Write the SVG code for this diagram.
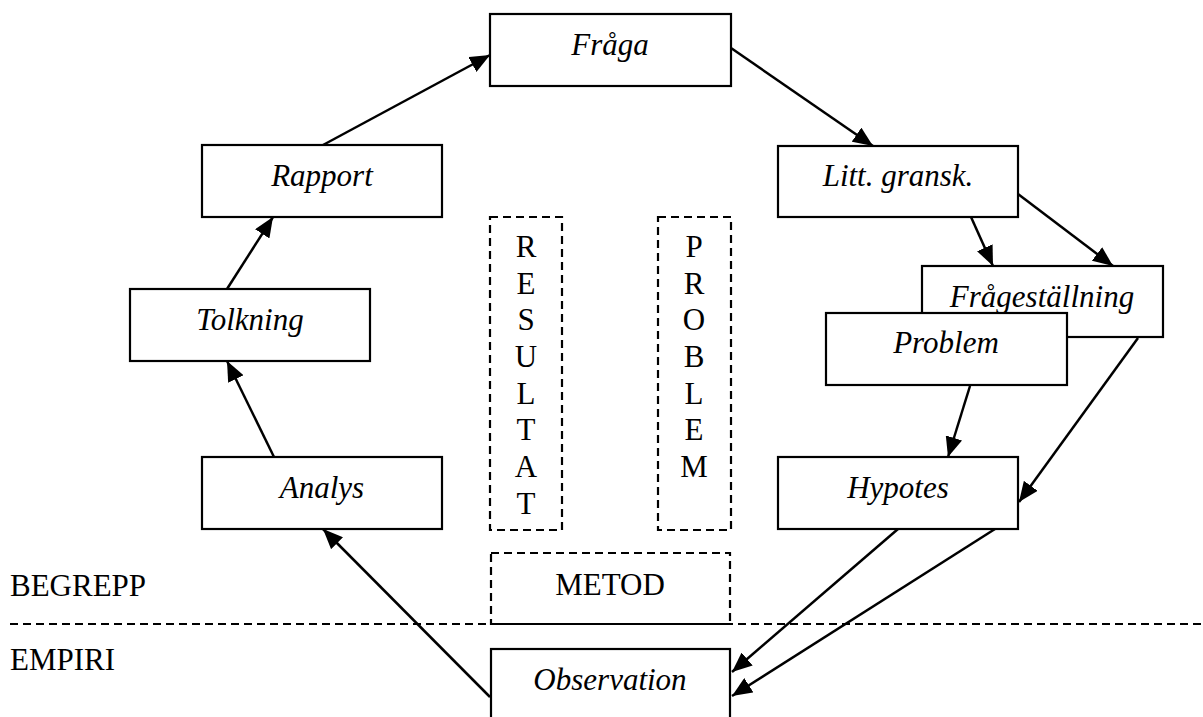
<svg xmlns="http://www.w3.org/2000/svg" width="1203" height="717" viewBox="0 0 1203 717">
<defs>
<marker id="ah" markerUnits="userSpaceOnUse" markerWidth="21" markerHeight="17" refX="20" refY="8.5" orient="auto">
<path d="M0,0 L20,8.5 L0,17 Z" fill="#000"/>
</marker>
<style>
.box{fill:#fff;stroke:#000;stroke-width:2.2}
.dbox{fill:none;stroke:#000;stroke-width:2.2;stroke-dasharray:8 5}
text{font-family:'Liberation Serif','DejaVu Serif',serif;font-size:31px;fill:#000}
.lbl{font-style:italic;text-anchor:middle}
.upc{text-anchor:middle}
.con{stroke:#000;stroke-width:2.5;fill:none;marker-end:url(#ah)}
</style>
</defs>
<rect width="1203" height="717" fill="#fff"/>
<g id="divider">
<line x1="10" y1="624" x2="1203" y2="624" stroke="#000" stroke-width="2.2" stroke-dasharray="8 5"/>
<text x="10" y="596">BEGREPP</text>
<text x="10" y="670">EMPIRI</text>
</g>
<g id="resultat">
<rect class="dbox" x="490" y="217" width="72" height="313"/>
<text class="upc"><tspan x="526" y="257">R</tspan><tspan x="526" y="294">E</tspan><tspan x="526" y="330">S</tspan><tspan x="526" y="367">U</tspan><tspan x="526" y="404">L</tspan><tspan x="526" y="440">T</tspan><tspan x="526" y="477">A</tspan><tspan x="526" y="514">T</tspan></text>
</g>
<g id="problemcol">
<rect class="dbox" x="658" y="217" width="73" height="313"/>
<text class="upc"><tspan x="694" y="257">P</tspan><tspan x="694" y="294">R</tspan><tspan x="694" y="330">O</tspan><tspan x="694" y="367">B</tspan><tspan x="694" y="404">L</tspan><tspan x="694" y="440">E</tspan><tspan x="694" y="477">M</tspan></text>
</g>
<g id="metod">
<rect class="dbox" x="491" y="553" width="239" height="71"/>
<text class="upc" x="610" y="595">METOD</text>
</g>
<g id="connectors">
<line class="con" x1="323" y1="145" x2="490" y2="55"/>
<line class="con" x1="731" y1="48" x2="873" y2="146"/>
<line class="con" x1="971" y1="217" x2="993" y2="266"/>
<line class="con" x1="1018" y1="194" x2="1113" y2="266"/>
<line class="con" x1="1138" y1="338" x2="1019" y2="502"/>
<line class="con" x1="970" y1="386" x2="948" y2="457"/>
<line class="con" x1="898" y1="529" x2="732" y2="672"/>
<line class="con" x1="995" y1="529" x2="732" y2="696"/>
<line class="con" x1="490" y1="697" x2="323" y2="529"/>
<line class="con" x1="274" y1="457" x2="227" y2="361"/>
<line class="con" x1="227" y1="289" x2="273" y2="217"/>
</g>
<g id="fraga">
<rect class="box" x="490" y="14" width="241" height="72"/>
<text class="lbl" x="610" y="55">Fråga</text>
</g>
<g id="litt">
<rect class="box" x="778" y="146" width="240" height="71"/>
<text class="lbl" x="898" y="186">Litt. gransk.</text>
</g>
<g id="fragestallning">
<rect class="box" x="922" y="266" width="241" height="71"/>
<text class="lbl" x="1042" y="307">Frågeställning</text>
</g>
<g id="problem">
<rect class="box" x="826" y="313" width="241" height="72"/>
<text class="lbl" x="946" y="353">Problem</text>
</g>
<g id="hypotes">
<rect class="box" x="778" y="457" width="240" height="72"/>
<text class="lbl" x="898" y="498">Hypotes</text>
</g>
<g id="observation">
<rect class="box" x="491" y="649" width="239" height="90"/>
<text class="lbl" x="610" y="690">Observation</text>
</g>
<g id="analys">
<rect class="box" x="202" y="457" width="240" height="72"/>
<text class="lbl" x="322" y="498">Analys</text>
</g>
<g id="tolkning">
<rect class="box" x="130" y="289" width="240" height="72"/>
<text class="lbl" x="250" y="330">Tolkning</text>
</g>
<g id="rapport">
<rect class="box" x="202" y="145" width="240" height="72"/>
<text class="lbl" x="322" y="186">Rapport</text>
</g>
</svg>
